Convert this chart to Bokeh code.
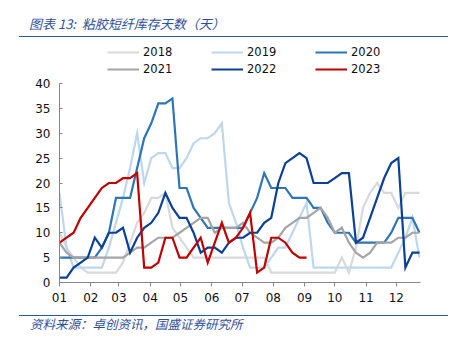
from bokeh.plotting import figure
from bokeh.models import Range1d, FixedTicker, Legend, LegendItem, Div
from bokeh.layouts import column
from bokeh.embed import file_html
from bokeh.resources import INLINE

# weekly observations (week index 0..51), x positioned by day of year
weeks = list(range(52))
days = [7 * w for w in weeks]

month_starts = [0, 31, 59, 90, 120, 151, 181, 212, 243, 273, 304, 334]
month_labels = ["01", "02", "03", "04", "05", "06", "07", "08", "09", "10", "11", "12"]
y_ticks = [0, 5, 10, 15, 20, 25, 30, 35, 40]

y2018 = [10, 7, 5, 3, 2, 2, 2, 2, 2, 4, 8, 12, 14, 17, 17, 18, 11, 9, 7, 5,
         5, 5, 5, 5, 5, 5, 5, 5, 5, 5, 2, 2, 2, 2, 2, 2, 2, 2, 2, 2,
         5, 2, 7, 15, 18, 20, 18, 18, 15, 18, 18, 18]
y2019 = [18, 7, 3, 3, 3, 3, 3, 7, 12, 17, 23, 30, 20, 25, 26, 26, 23, 23, 25, 28,
         29, 29, 30, 32, 16, 12, 7, 3, 3, 3, 5, 7, 7, 10, 13, 16, 3, 3, 3, 3,
         3, 3, 3, 3, 3, 3, 3, 3, 6, 9, 13, 5]
y2020 = [5, 5, 5, 5, 5, 5, 7, 10, 17, 17, 17, 23, 29, 32, 36, 36, 37, 19, 19, 15,
         13, 11, 11, 11, 11, 11, 11, 14, 17, 22, 19, 19, 19, 17, 17, 17, 15, 15, 12, 10,
         10, 10, 8, 8, 8, 8, 8, 10, 13, 13, 13, 10]
y2021 = [8, 6, 5, 5, 5, 5, 5, 5, 5, 5, 6, 7, 7, 8, 9, 9, 9, 10, 11, 12,
         13, 13, 10, 11, 11, 11, 12, 10, 9, 8, 8, 9, 11, 12, 13, 13, 14, 15, 13, 10,
         11, 8, 6, 5, 6, 8, 8, 8, 9, 9, 10, 10]
y2022 = [1, 1, 3, 4, 5, 9, 7, 10, 10, 11, 6, 9, 11, 12, 14, 18, 15, 13, 13, 10,
         6, 7, 7, 6, 8, 9, 9, 10, 10, 12, 13, 20, 24, 25, 26, 25, 20, 20, 20, 21,
         22, 22, 8, 9, 13, 17, 21, 24, 25, 3, 6, 6]
y2023 = [8, 9, 10, 13, 15, 17, 19, 20, 20, 21, 21, 22, 3, 3, 4, 9, 9, 5, 5, 7,
         9, 4, 8, 12, 8, 9, 11, 14, 2, 3, 9, 9, 8, 6, 5, 5]

series = [
    ("2018", y2018, "#d9d9d9"),
    ("2019", y2019, "#bdd7ee"),
    ("2020", y2020, "#2e75b6"),
    ("2021", y2021, "#a5a5a5"),
    ("2022", y2022, "#0a4196"),
    ("2023", y2023, "#c00000"),
]

title_text = "图表 13:&nbsp;&nbsp;粘胶短纤库存天数（天）"
source_text = "资料来源：卓创资讯，国盛证券研究所"
blue = "#2f4f9a"
rule = "#2e5597"
LW = 2.2

# ---------------- main chart ----------------
p = figure(width=452, height=232, output_backend="svg", toolbar_location=None,
           title=None,
           x_range=Range1d(0, 358), y_range=Range1d(0, 40),
           min_border_left=59, min_border_right=32,
           min_border_top=7, min_border_bottom=26)
p.margin = 0
p.xgrid.visible = False
p.ygrid.visible = False
p.outline_line_color = None
p.background_fill_color = "white"
p.border_fill_color = "white"

axis_gray = "#868686"
xa = p.xaxis[0]
xa.ticker = FixedTicker(ticks=month_starts)
xa.major_label_overrides = {d: lab for d, lab in zip(month_starts, month_labels)}
xa.major_tick_out = 4
xa.major_tick_in = 0
xa.minor_tick_out = 0
xa.minor_tick_in = 0
xa.axis_line_color = axis_gray
xa.major_tick_line_color = axis_gray
xa.major_label_text_font = "DejaVu Sans"
xa.major_label_text_font_size = "12px"
xa.major_label_text_color = "#111111"
xa.major_label_standoff = 6

ya = p.yaxis[0]
ya.ticker = FixedTicker(ticks=y_ticks)
ya.major_tick_out = 0
ya.major_tick_in = 3
ya.minor_tick_out = 0
ya.minor_tick_in = 0
ya.axis_line_color = axis_gray
ya.major_tick_line_color = axis_gray
ya.major_label_text_font = "DejaVu Sans"
ya.major_label_text_font_size = "12px"
ya.major_label_text_color = "#111111"
ya.major_label_standoff = 9

for name, vals, color in series:
    p.line(days[:len(vals)], vals, line_color=color, line_width=LW, line_join="miter")

# ---------------- legend strip (its own key renderers lie outside its view) ----------------
lf = figure(width=452, height=38, output_backend="svg", toolbar_location=None,
            title=None, x_axis_type=None, y_axis_type=None,
            x_range=Range1d(-20, -10), y_range=Range1d(-20, -10), min_border=0)
lf.margin = 0
lf.xgrid.visible = False
lf.ygrid.visible = False
lf.outline_line_color = None
lf.background_fill_color = "white"
lf.border_fill_color = "white"

key_renderers = {}
for name, vals, color in series:
    key_renderers[name] = lf.line(days[:len(vals)], vals, line_color=color, line_width=LW)


def make_legend(names, loc):
    return Legend(items=[LegendItem(label=n, renderers=[key_renderers[n]]) for n in names],
                  orientation="horizontal", location=loc,
                  glyph_width=32, glyph_height=14, label_width=68, label_height=14,
                  label_standoff=4, spacing=0, padding=0, margin=0,
                  background_fill_alpha=0, border_line_alpha=0,
                  label_text_font="DejaVu Sans", label_text_font_size="11.5px",
                  label_text_color="#111111")


lf.add_layout(make_legend(["2018", "2019", "2020"], (48, 17)))
lf.add_layout(make_legend(["2021", "2022", "2023"], (48, 0)))

# ---------------- header / footer ----------------
title_html = (
    '<div style="position:relative;width:452px;height:38px;">'
    f'<div style="position:absolute;left:19px;top:36px;width:429px;height:0;border-top:1.5px solid {rule};"></div>'
    f'<span style="position:absolute;left:29px;top:15px;font-family:\'Noto Sans CJK SC\';font-size:13px;'
    f'font-style:italic;color:{blue};line-height:18px;white-space:nowrap;">{title_text}</span></div>'
)
source_html = (
    '<div style="position:relative;width:452px;height:43px;">'
    f'<div style="position:absolute;left:19px;top:7px;width:429px;height:0;border-top:1.5px solid {rule};"></div>'
    f'<span style="position:absolute;left:30px;top:8px;font-family:\'Noto Sans CJK SC\';font-size:12.5px;'
    f'font-style:italic;color:{blue};line-height:16px;white-space:nowrap;">{source_text}</span></div>'
)
div_title = Div(text=title_html, width=452, height=38, margin=0)
div_source = Div(text=source_html, width=452, height=43, margin=0)

layout = column(div_title, lf, p, div_source, spacing=0, margin=0)

open("out.html", "w").write(file_html(layout, INLINE))
